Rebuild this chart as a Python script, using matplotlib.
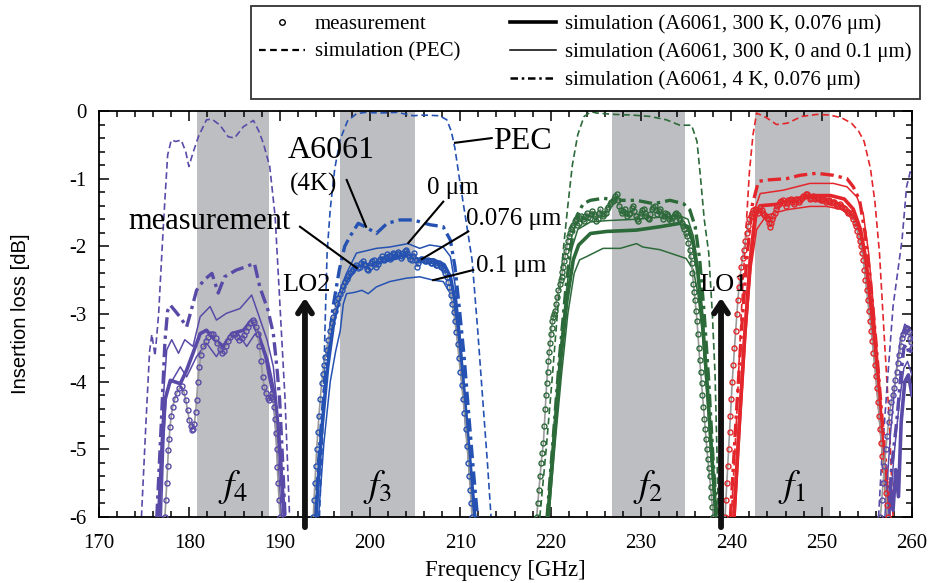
import numpy as np
import matplotlib
matplotlib.use('Agg')
import matplotlib.pyplot as plt
from matplotlib.lines import Line2D

plt.rcParams['font.family'] = ['Liberation Serif', 'DejaVu Serif']
plt.rcParams['mathtext.fontset'] = 'stix'
plt.rcParams['axes.unicode_minus'] = False

# ---- band colours / shaded IF bands ----
c4, c3, c2, c1 = '#5a4aa8', '#2552b2', '#2d6a3a', '#e2262b'
bands = [(180.9, 188.85, '$f_4$'), (196.7, 205.0, '$f_3$'),
         (226.8, 234.9, '$f_2$'), (242.6, 250.9, '$f_1$')]
lo_freqs = [192.8, 238.86]
lo_names = ['LO2', 'LO1']

# ---- f4 (purple) ----
pec4 = [(174.7,-6.0),(175.2,-4.6),(175.6,-3.55),(175.85,-3.3),(176.2,-3.62),(176.6,-3.0),(177.0,-2.0),
        (177.3,-1.3),(177.6,-0.65),(178.0,-0.43),(178.5,-0.45),(179.1,-0.43),(179.6,-0.6),(179.95,-0.82),
        (180.4,-0.62),(181.0,-0.38),(181.9,-0.13),(182.5,-0.12),(183.4,-0.21),(184.3,-0.38),(185.0,-0.4),
        (186.0,-0.23),(187.1,-0.14),(187.7,-0.3),(188.2,-0.48),(188.9,-0.82),(189.5,-1.56),(190.0,-2.79),
        (190.6,-4.27),(191.1,-6.0)]
cold4 = [(176.4,-6.0),(176.9,-4.6),(177.3,-3.4),(177.6,-2.95),(177.9,-2.87),(178.4,-2.95),(179.0,-3.05),
         (179.7,-3.19),(180.2,-2.95),(180.8,-2.65),(181.6,-2.5),(182.5,-2.4),(183.2,-2.69),(183.9,-2.45),
         (185.2,-2.35),(186.3,-2.3),(187.2,-2.25),(187.8,-2.6),(188.7,-2.94),(189.3,-3.29),(189.7,-3.8),
         (190.0,-4.27),(190.3,-5.1),(190.6,-6.0)]
r076_4 = [(176.6,-6.0),(177.0,-4.9),(177.3,-4.27),(177.9,-3.98),(179.0,-4.03),(179.7,-3.83),(180.4,-3.58),
          (181.2,-3.29),(181.9,-3.24),(182.8,-3.38),(183.8,-3.48),(184.7,-3.29),(186.0,-3.24),(186.9,-3.09),
          (187.6,-3.29),(188.6,-3.68),(189.3,-4.12),(190.0,-5.01),(190.5,-6.0)]
r0_4 = [(176.75,-6.0),(177.1,-4.27),(177.5,-3.53),(178.05,-3.38),(178.8,-3.58),(179.5,-3.38),(180.4,-3.48),
        (181.2,-3.04),(182.3,-2.89),(183.0,-3.09),(184.1,-2.99),(185.6,-2.92),(186.9,-2.72),(187.6,-2.99),
        (188.6,-3.38),(189.3,-3.78),(190.0,-4.76),(190.6,-6.0)]
r01_4 = [(176.9,-6.0),(177.2,-4.8),(177.5,-4.12),(179.0,-3.78),(179.7,-3.93),(180.8,-3.63),(181.9,-3.43),
         (183.0,-3.63),(184.1,-3.38),(185.4,-3.29),(186.35,-3.48),(187.3,-3.29),(188.2,-3.48),(188.7,-3.88),
         (189.3,-4.27),(189.85,-5.26),(190.2,-6.0)]
meas4 = [(177.3,-6.0),(177.4,-5.75),(177.5,-5.5),(177.6,-5.25),(177.67,-5.01),(177.76,-4.85),(177.86,-4.67),
         (178.0,-4.5),(178.16,-4.37),(178.4,-4.25),(178.6,-4.17),(178.9,-4.1),(179.15,-4.07),(179.4,-4.15),
         (179.6,-4.27),(179.8,-4.42),(180.0,-4.57),(180.15,-4.66),(180.26,-4.71),(180.4,-4.7),(180.55,-4.62),
         (180.7,-4.45),(180.8,-4.27),(180.95,-4.0),(181.1,-3.78),(181.3,-3.6),(181.55,-3.48),(181.8,-3.4),
         (182.1,-3.34),(182.4,-3.3),(182.65,-3.29),(182.9,-3.36),(183.1,-3.43),(183.35,-3.52),(183.58,-3.58),
         (183.8,-3.55),(184.06,-3.48),(184.3,-3.4),(184.5,-3.34),(184.8,-3.3),(185.06,-3.29),(185.3,-3.34),
         (185.53,-3.38),(185.8,-3.35),(186.05,-3.31),(186.3,-3.25),(186.53,-3.19),(186.75,-3.14),(187.0,-3.09),
         (187.2,-3.12),(187.38,-3.19),(187.55,-3.3),(187.75,-3.48),(187.95,-3.7),(188.12,-3.93),(188.3,-4.08),
         (188.49,-4.17),(188.7,-4.24),(188.86,-4.27),(189.0,-4.22),(189.12,-4.17),(189.25,-4.25),(189.37,-4.37),
         (189.5,-4.55),(189.6,-4.76),(189.67,-5.0),(189.74,-5.26),(189.83,-5.5),(189.93,-5.75),(190.04,-6.0)]

# ---- f3 (blue) ----
pec3 = [(194.4,-6.0),(194.75,-4.8),(195.0,-3.3),(195.25,-2.1),(195.6,-1.45),(196.1,-0.85),(196.7,-0.42),
        (197.5,-0.15),(198.5,-0.04),(199.5,-0.02),(201.0,-0.03),(203.0,-0.02),(204.8,-0.07),(205.9,-0.06),
        (207.7,-0.07),(208.5,-0.13),(209.0,-0.3),(209.4,-0.55),(209.9,-1.0),(210.6,-1.6),(211.3,-2.2),
        (211.9,-3.2),(212.5,-4.3),(213.0,-5.2),(213.4,-6.0)]
cold3 = [(193.9,-6.0),(194.5,-4.8),(195.2,-3.7),(195.9,-2.9),(196.6,-2.35),(197.2,-2.0),(197.8,-1.85),
         (198.7,-1.66),(199.6,-1.72),(200.7,-1.81),(201.9,-1.66),(203.3,-1.61),(204.8,-1.61),(206.6,-1.68),
         (208.1,-1.71),(208.9,-1.91),(209.4,-2.3),(209.8,-2.8),(210.4,-3.6),(211.0,-4.6),(211.5,-5.4),(211.9,-6.0)]
r076_3 = [(194.0,-6.0),(194.6,-4.8),(195.3,-3.8),(196.0,-3.1),(196.7,-2.7),(197.4,-2.5),(198.5,-2.3),
          (200.0,-2.27),(201.5,-2.22),(203.0,-2.17),(204.2,-2.13),(205.5,-2.2),(207.0,-2.2),(208.2,-2.27),
          (208.9,-2.45),(209.4,-2.8),(209.9,-3.4),(210.5,-4.3),(211.2,-5.4),(211.6,-6.0)]
r0_3 = [(194.1,-6.0),(194.7,-4.7),(195.4,-3.6),(196.1,-2.95),(196.8,-2.6),(197.4,-2.4),(198.5,-2.1),
        (200.7,-2.03),(202.2,-2.01),(204.2,-1.96),(205.5,-2.03),(206.6,-1.98),(208.1,-2.01),(208.9,-2.15),
        (209.4,-2.55),(209.9,-3.2),(210.5,-4.2),(211.2,-5.4),(211.7,-6.0)]
r01_3 = [(194.3,-6.0),(194.9,-4.9),(195.6,-4.0),(196.2,-3.55),(196.7,-3.25),(197.05,-2.85),(197.4,-2.7),
         (198.3,-2.68),(199.1,-2.65),(199.8,-2.7),(200.7,-2.6),(202.2,-2.52),(204.05,-2.47),(205.5,-2.45),
         (207.0,-2.5),(208.1,-2.52),(208.9,-2.7),(209.4,-3.04),(209.9,-3.6),(210.5,-4.5),(211.1,-5.5),(211.5,-6.0)]
meas3 = [(193.73,-6.0),(193.8,-5.75),(193.9,-5.5),(194.0,-5.25),(194.1,-5.0),(194.22,-4.75),(194.35,-4.5),
         (194.5,-4.25),(194.65,-4.02),(194.78,-3.88),(194.9,-3.75),(195.05,-3.64),(195.2,-3.53),(195.38,-3.38),
         (195.55,-3.25),(195.75,-3.14),(195.94,-3.04),(196.1,-2.95),(196.3,-2.85),(196.5,-2.77),(196.68,-2.7),
         (196.85,-2.64),(197.05,-2.58),(197.25,-2.52),(197.42,-2.48),(197.6,-2.44),(197.8,-2.4),(198.0,-2.36),
         (198.15,-2.33),(198.3,-2.3),(198.5,-2.27),(198.7,-2.32),(198.85,-2.3),(199.0,-2.25),(199.2,-2.22),
         (199.35,-2.26),(199.5,-2.28),(199.65,-2.33),(199.8,-2.35),(199.95,-2.3),(200.1,-2.25),(200.25,-2.21),
         (200.4,-2.2),(200.55,-2.26),(200.7,-2.3),(200.85,-2.26),(201.0,-2.22),(201.15,-2.18),(201.3,-2.15),
         (201.45,-2.18),(201.6,-2.2),(201.75,-2.16),(201.9,-2.12),(202.05,-2.15),(202.2,-2.18),(202.35,-2.14),
         (202.5,-2.1),(202.65,-2.12),(202.8,-2.15),(202.95,-2.11),(203.1,-2.08),(203.25,-2.12),(203.4,-2.17),
         (203.55,-2.14),(203.7,-2.1),(203.85,-2.07),(204.0,-2.05),(204.15,-2.1),(204.3,-2.15),(204.45,-2.18),
         (204.6,-2.2),(204.75,-2.15),(204.9,-2.1),(205.05,-2.2),(205.2,-2.3),(205.35,-2.25),(205.5,-2.2),
         (205.65,-2.19),(205.8,-2.18),(205.95,-2.2),(206.1,-2.22),(206.25,-2.21),(206.4,-2.2),(206.55,-2.22),
         (206.7,-2.25),(206.85,-2.24),(207.0,-2.22),(207.15,-2.25),(207.3,-2.28),(207.45,-2.27),(207.6,-2.25),
         (207.75,-2.27),(207.9,-2.3),(208.05,-2.32),(208.2,-2.35),(208.35,-2.4),(208.5,-2.45),(208.65,-2.52),
         (208.8,-2.6),(208.95,-2.72),(209.1,-2.85),(209.25,-2.97),(209.4,-3.1),(209.55,-3.27),(209.7,-3.45),
         (209.85,-3.65),(210.0,-3.85),(210.15,-4.05),(210.3,-4.25),(210.45,-4.47),(210.6,-4.7),(210.75,-4.95),
         (210.9,-5.2),(211.0,-5.4),(211.1,-5.6),(211.2,-5.8),(211.3,-6.0)]

# ---- f2 (green) ----
pec2 = [(218.8,-6.0),(219.5,-5.0),(220.2,-3.9),(220.8,-2.9),(221.4,-2.05),(221.9,-1.4),(222.4,-0.8),
        (223.0,-0.35),(223.7,-0.08),(224.5,-0.01),(225.1,-0.03),(227.0,-0.05),(229.0,-0.06),(231.0,-0.08),
        (232.8,-0.13),(234.3,-0.21),(235.6,-0.21),(236.2,-0.45),(236.6,-1.0),(237.0,-1.6),(237.5,-2.1),
        (237.9,-3.0),(238.2,-3.9),(238.4,-5.0),(238.55,-6.0)]
cold2 = [(219.6,-6.0),(220.3,-4.8),(221.0,-3.6),(221.7,-2.6),(222.3,-1.95),(222.9,-1.55),(223.6,-1.37),
         (224.4,-1.32),(225.8,-1.29),(227.7,-1.32),(229.5,-1.32),(231.4,-1.37),(233.2,-1.32),(234.7,-1.37),
         (235.4,-1.46),(236.0,-1.71),(236.5,-2.2),(237.0,-3.0),(237.5,-4.0),(238.0,-5.2),(238.4,-6.0)]
r076_2 = [(219.7,-6.0),(220.4,-4.8),(221.1,-3.7),(221.8,-2.8),(222.5,-2.2),(223.1,-1.98),(224.4,-1.81),
          (226.2,-1.78),(229.5,-1.76),(232.1,-1.71),(234.3,-1.66),(235.2,-1.71),(235.8,-1.96),(236.3,-2.4),
          (236.8,-3.1),(237.3,-4.0),(237.8,-5.0),(238.3,-6.0)]
r0_2 = [(219.6,-6.0),(220.3,-4.8),(221.0,-3.6),(221.7,-2.7),(222.3,-2.05),(223.0,-1.75),(224.4,-1.64),
        (226.2,-1.62),(229.5,-1.6),(232.1,-1.57),(234.3,-1.55),(235.2,-1.6),(235.8,-1.85),(236.3,-2.3),
        (236.8,-3.0),(237.3,-3.9),(237.8,-5.0),(238.3,-6.0)]
r01_2 = [(219.8,-6.0),(220.5,-4.9),(221.2,-3.9),(221.9,-3.0),(222.6,-2.4),(223.2,-2.2),(224.0,-2.15),
         (225.8,-2.03),(227.7,-2.03),(229.5,-1.96),(230.2,-2.01),(232.1,-2.05),(233.9,-2.13),(235.0,-2.18),
         (235.8,-2.35),(236.3,-2.7),(236.8,-3.3),(237.3,-4.2),(237.8,-5.2),(238.2,-6.0)]
meas2 = [(218.45,-6.0),(218.58,-5.8),(218.7,-5.6),(218.82,-5.4),(218.95,-5.2),(219.08,-5.05),(219.2,-4.9),
         (219.3,-4.65),(219.4,-4.4),(219.48,-4.2),(219.56,-4.02),(219.65,-3.85),(219.75,-3.7),(219.84,-3.56),
         (219.93,-3.43),(220.02,-3.3),(220.1,-3.2),(220.2,-3.1),(220.3,-3.04),(220.4,-3.0),(220.5,-2.95),
         (220.6,-2.85),(220.7,-2.75),(220.85,-2.65),(221.0,-2.55),(221.1,-2.5),(221.2,-2.45),(221.3,-2.38),
         (221.4,-2.3),(221.5,-2.22),(221.6,-2.15),(221.7,-2.07),(221.8,-2.0),(221.9,-1.92),(222.0,-1.85),
         (222.12,-1.8),(222.25,-1.75),(222.38,-1.72),(222.5,-1.68),(222.65,-1.62),(222.8,-1.6),(222.95,-1.68),
         (223.1,-1.65),(223.25,-1.58),(223.4,-1.55),(223.55,-1.6),(223.7,-1.62),(223.85,-1.55),(224.0,-1.5),
         (224.15,-1.56),(224.3,-1.58),(224.45,-1.52),(224.6,-1.48),(224.75,-1.52),(224.9,-1.55),(225.05,-1.62),
         (225.2,-1.6),(225.35,-1.5),(225.5,-1.45),(225.65,-1.52),(225.8,-1.55),(225.95,-1.52),(226.1,-1.5),
         (226.25,-1.45),(226.4,-1.42),(226.55,-1.38),(226.7,-1.35),(226.85,-1.33),(227.0,-1.3),(227.15,-1.26),
         (227.3,-1.22),(227.45,-1.32),(227.6,-1.4),(227.75,-1.46),(227.9,-1.5),(228.05,-1.48),(228.2,-1.45),
         (228.35,-1.5),(228.5,-1.55),(228.65,-1.52),(228.8,-1.5),(228.95,-1.44),(229.1,-1.4),(229.25,-1.48),
         (229.4,-1.55),(229.55,-1.6),(229.7,-1.62),(229.85,-1.55),(230.0,-1.5),(230.15,-1.47),(230.3,-1.45),
         (230.45,-1.5),(230.6,-1.55),(230.75,-1.58),(230.9,-1.6),(231.05,-1.52),(231.2,-1.45),(231.35,-1.42),
         (231.5,-1.4),(231.65,-1.46),(231.8,-1.52),(231.95,-1.48),(232.1,-1.45),(232.25,-1.53),(232.4,-1.6),
         (232.55,-1.55),(232.7,-1.5),(232.85,-1.52),(233.0,-1.55),(233.15,-1.59),(233.3,-1.62),(233.45,-1.58),
         (233.6,-1.55),(233.75,-1.52),(233.9,-1.5),(234.05,-1.54),(234.2,-1.58),(234.35,-1.61),(234.5,-1.65),
         (234.65,-1.7),(234.8,-1.75),(234.95,-1.8),(235.1,-1.85),(235.25,-1.95),(235.4,-2.05),(235.5,-2.15),
         (235.6,-2.25),(235.7,-2.4),(235.8,-2.55),(235.9,-2.68),(236.0,-2.8),(236.1,-2.95),(236.2,-3.1),
         (236.3,-3.3),(236.4,-3.5),(236.5,-3.68),(236.6,-3.85),(236.7,-4.02),(236.8,-4.2),(236.9,-4.38),
         (237.0,-4.55),(237.1,-4.7),(237.2,-4.85),(237.3,-5.0),(237.4,-5.15),(237.5,-5.28),(237.6,-5.4),
         (237.7,-5.55),(237.8,-5.7),(237.9,-5.85),(238.0,-6.0)]

# ---- f1 (red) ----
pec1 = [(240.0,-6.0),(240.6,-4.5),(241.1,-3.0),(241.6,-1.8),(242.0,-0.9),(242.4,-0.35),(242.8,-0.03),
        (243.9,-0.1),(245.0,-0.2),(246.2,-0.18),(247.8,-0.08),(249.5,-0.05),(250.9,-0.06),(252.2,-0.1),
        (253.3,-0.18),(254.1,-0.3),(254.7,-0.45),(255.4,-0.85),(255.9,-1.35),(256.4,-2.1),(257.0,-3.5),
        (257.5,-4.6),(257.9,-6.0)]
cold1 = [(239.9,-6.0),(240.5,-4.6),(241.1,-3.3),(241.7,-2.2),(242.3,-1.4),(243.0,-1.04),(243.9,-1.02),
         (246.1,-1.0),(247.6,-0.95),(249.45,-0.92),(251.3,-0.95),(252.8,-1.0),(253.5,-1.12),(254.2,-1.32),
         (254.8,-1.8),(255.4,-2.5),(256.0,-3.4),(256.6,-4.4),(257.2,-5.4),(257.5,-6.0)]
r076_1 = [(240.3,-6.0),(240.9,-4.6),(241.5,-3.3),(242.1,-2.2),(242.7,-1.55),(243.2,-1.4),(245.0,-1.38),
          (247.0,-1.3),(249.0,-1.25),(251.0,-1.25),(252.5,-1.3),(253.5,-1.45),(254.3,-1.75),(254.9,-2.2),
          (255.5,-2.9),(256.1,-3.8),(256.6,-4.7),(257.1,-5.5),(257.4,-6.0)]
r0_1 = [(240.2,-6.0),(240.8,-4.6),(241.4,-3.3),(242.0,-2.2),(242.6,-1.45),(243.2,-1.22),(245.75,-1.17),
        (248.7,-1.07),(251.3,-1.07),(252.8,-1.12),(253.9,-1.27),(254.6,-1.51),(255.2,-2.1),(255.8,-3.0),
        (256.4,-4.0),(256.9,-5.0),(257.3,-6.0)]
r01_1 = [(240.4,-6.0),(241.0,-4.6),(241.6,-3.3),(242.2,-2.3),(242.8,-1.75),(243.9,-1.54),(246.1,-1.46),
         (248.7,-1.41),(250.55,-1.41),(252.4,-1.46),(253.5,-1.56),(254.2,-1.81),(254.8,-2.3),(255.4,-3.0),
         (256.0,-3.9),(256.6,-4.9),(257.1,-5.7),(257.3,-6.0)]
meas1 = [(239.3,-6.0),(239.4,-5.75),(239.5,-5.5),(239.6,-5.25),(239.7,-5.0),(239.8,-4.75),(239.9,-4.5),
         (240.0,-4.25),(240.1,-4.0),(240.22,-3.75),(240.35,-3.5),(240.48,-3.25),(240.6,-3.0),(240.72,-2.8),
         (240.85,-2.6),(240.98,-2.45),(241.1,-2.3),(241.25,-2.17),(241.4,-2.05),(241.55,-1.92),(241.7,-1.8),
         (241.85,-1.7),(242.0,-1.6),(242.15,-1.55),(242.3,-1.5),(242.45,-1.47),(242.6,-1.45),(242.75,-1.48),
         (242.9,-1.5),(243.05,-1.46),(243.2,-1.42),(243.35,-1.46),(243.5,-1.5),(243.65,-1.53),(243.8,-1.55),
         (243.95,-1.58),(244.1,-1.6),(244.2,-1.66),(244.3,-1.72),(244.4,-1.66),(244.5,-1.6),(244.65,-1.55),
         (244.8,-1.5),(244.95,-1.45),(245.1,-1.4),(245.25,-1.37),(245.4,-1.35),(245.55,-1.33),(245.7,-1.32),
         (245.85,-1.36),(246.0,-1.4),(246.15,-1.36),(246.3,-1.32),(246.45,-1.31),(246.6,-1.3),(246.75,-1.34),
         (246.9,-1.38),(247.05,-1.34),(247.2,-1.3),(247.35,-1.32),(247.5,-1.35),(247.65,-1.31),(247.8,-1.28),
         (247.95,-1.26),(248.1,-1.25),(248.25,-1.23),(248.4,-1.22),(248.55,-1.26),(248.7,-1.3),(248.85,-1.28),
         (249.0,-1.26),(249.15,-1.28),(249.3,-1.3),(249.45,-1.28),(249.6,-1.27),(249.75,-1.3),(249.9,-1.32),
         (250.05,-1.31),(250.2,-1.3),(250.35,-1.32),(250.5,-1.34),(250.65,-1.33),(250.8,-1.32),(250.95,-1.34),
         (251.1,-1.36),(251.25,-1.35),(251.4,-1.35),(251.55,-1.38),(251.7,-1.4),(251.85,-1.39),(252.0,-1.38),
         (252.15,-1.4),(252.3,-1.42),(252.45,-1.44),(252.6,-1.45),(252.75,-1.48),(252.9,-1.5),(253.05,-1.5),
         (253.2,-1.5),(253.35,-1.55),(253.5,-1.6),(253.65,-1.65),(253.8,-1.7),(253.95,-1.78),(254.1,-1.85),
         (254.22,-1.92),(254.35,-2.0),(254.48,-2.1),(254.6,-2.2),(254.72,-2.35),(254.85,-2.5),(254.98,-2.65),
         (255.1,-2.8),(255.22,-2.95),(255.35,-3.1),(255.48,-3.25),(255.6,-3.4),(255.72,-3.58),(255.85,-3.75),
         (255.98,-3.92),(256.1,-4.1),(256.22,-4.3),(256.35,-4.5),(256.48,-4.7),(256.6,-4.9),(256.72,-5.1),
         (256.85,-5.3),(256.98,-5.48),(257.1,-5.65),(257.2,-5.82),(257.3,-6.0)]

# ---- purple again at the right edge ----
pecR = [(256.3,-6.0),(256.6,-5.26),(257.0,-4.52),(257.4,-3.78),(257.9,-2.89),(258.9,-1.9),(259.4,-1.12),
        (259.8,-0.9),(260.0,-1.0)]
coldR = [(257.3,-6.0),(257.8,-5.2),(258.3,-4.6),(258.7,-4.0),(259.1,-3.5),(259.4,-3.45),(259.7,-3.6),(260.0,-3.5)]
r076_R = [(257.4,-6.0),(257.6,-5.6),(257.9,-5.9),(258.2,-5.3),(258.5,-5.7),(258.8,-4.6),(259.2,-4.0),
          (259.6,-3.9),(260.0,-4.2)]
r0_R = [(257.0,-6.0),(257.6,-4.8),(258.2,-3.9),(258.7,-3.4),(259.2,-3.15),(259.6,-3.2),(260.0,-3.4)]
r01_R = [(257.5,-6.0),(258.0,-5.1),(258.6,-4.3),(259.1,-3.8),(259.5,-3.7),(260.0,-3.9)]
measR = [(256.5,-6.0),(256.65,-5.75),(256.8,-5.5),(256.95,-5.25),(257.1,-5.0),(257.25,-4.8),(257.4,-4.6),
         (257.55,-4.45),(257.7,-4.3),(257.85,-4.2),(258.0,-4.1),(258.15,-3.98),(258.3,-3.85),(258.45,-3.72),
         (258.6,-3.6),(258.75,-3.47),(258.9,-3.35),(259.05,-3.3),(259.2,-3.25),(259.35,-3.22),(259.5,-3.2),
         (259.65,-3.27),(259.8,-3.35),(259.9,-3.42),(260.0,-3.5)]

groups = [
    (c4, pec4, cold4, r076_4, r0_4, r01_4, meas4),
    (c3, pec3, cold3, r076_3, r0_3, r01_3, meas3),
    (c2, pec2, cold2, r076_2, r0_2, r01_2, meas2),
    (c1, pec1, cold1, r076_1, r0_1, r01_1, meas1),
    (c4, pecR, coldR, r076_R, r0_R, r01_R, measR),
]


def xy(pts):
    a = np.array(pts)
    return a[:, 0], a[:, 1]


fig = plt.figure(figsize=(9.33, 5.83), dpi=100)
ax = fig.add_axes([99/933, 1-517/583, (912-99)/933, (517-111)/583])

for lo, hi, lab in bands:
    ax.axvspan(lo, hi, color='#bdbec2', lw=0, zorder=0)
    ax.text((lo+hi)/2, -5.55, lab, fontsize=27, ha='center', va='center', zorder=6)

for col, pec, cold, r076, r0, r01, meas in groups:
    ax.plot(*xy(pec), color=col, lw=1.2, ls=(0, (4, 2.2)), zorder=2)
    ax.plot(*xy(cold), color=col, lw=2.4, ls=(0, (4, 1.5, 1, 1.5)), zorder=3)
    ax.plot(*xy(r0), color=col, lw=1.1, zorder=3)
    ax.plot(*xy(r01), color=col, lw=1.1, zorder=3)
    ax.plot(*xy(r076), color=col, lw=2.6, zorder=3)
    mx, my = xy(meas)
    ax.plot(mx, my, color='#9a9a9a', lw=1.2, zorder=4)
    ax.plot(mx, my, ls='none', marker='o', ms=3.6, mfc='none', mec=col, mew=1.0, zorder=4)

# LO arrows
for f, name in zip(lo_freqs, lo_names):
    ax.annotate('', xy=(f, -2.76), xytext=(f, -6.15), annotation_clip=False,
                arrowprops=dict(arrowstyle='->,head_length=0.75,head_width=0.5', lw=4.2,
                                color='#111111', shrinkA=0, shrinkB=0), zorder=7)
ax.text(190.3, -2.57, 'LO2', fontsize=19, va='center', zorder=8)
ax.text(236.4, -2.57, 'LO1', fontsize=19, va='center', zorder=8)

# labels with leader lines
ax.text(190.9, -0.58, 'A6061', fontsize=23, va='center', zorder=8)
ax.text(191.1, -1.09, '(4K)', fontsize=18, va='center', zorder=8)
ax.plot([197.42, 199.56], [-1.02, -1.71], color='k', lw=1.5, zorder=8)
ax.text(173.2, -1.64, 'measurement', fontsize=22, va='center', zorder=8)
ax.plot([192.25, 198.53], [-1.71, -2.32], color='k', lw=1.5, zorder=8)
ax.text(206.3, -1.14, '0 μm', fontsize=18, va='center', zorder=8)
ax.plot([208.11, 204.24], [-1.34, -1.95], color='k', lw=1.5, zorder=8)
ax.text(210.6, -1.6, '0.076 μm', fontsize=18, va='center', zorder=8)
ax.plot([210.88, 205.72], [-1.78, -2.19], color='k', lw=1.5, zorder=8)
ax.text(211.7, -2.29, '0.1 μm', fontsize=18, va='center', zorder=8)
ax.plot([211.43, 207.0], [-2.35, -2.5], color='k', lw=1.5, zorder=8)
ax.text(213.6, -0.45, 'PEC', fontsize=23, va='center', zorder=8)
ax.plot([213.47, 209.41], [-0.40, -0.47], color='k', lw=1.5, zorder=8)

ax.set_xlim(170, 260)
ax.set_ylim(-6, 0)
ax.set_xticks(np.arange(170, 261, 10))
ax.set_xticks(np.arange(170, 261, 2), minor=True)
ax.set_yticks(np.arange(-6, 0.1, 1))
ax.set_yticks(np.arange(-6, 0.01, 0.2), minor=True)
ax.tick_params(which='both', direction='in', top=True, right=True, width=1.1)
ax.tick_params(which='major', length=7, labelsize=15)
ax.tick_params(axis='x', which='major', pad=12)
ax.tick_params(axis='y', which='major', pad=9)
ax.tick_params(which='minor', length=4)
for s in ax.spines.values():
    s.set_linewidth(1.3)
ax.set_xlabel('Frequency [GHz]', fontsize=16.5, labelpad=5)
ax.set_ylabel('Insertion loss [dB]', fontsize=14.5, family=['Liberation Sans'], labelpad=28)

handles = [
    Line2D([], [], ls='none', marker='o', ms=4, mfc='none', mec='k', mew=1.0),
    Line2D([], [], color='k', lw=1.6, ls=(0, (3, 2))),
    Line2D([], [], ls='none'),
    Line2D([], [], color='k', lw=2.6),
    Line2D([], [], color='k', lw=1.1),
    Line2D([], [], color='k', lw=1.8, ls=(0, (3, 1.5, 1, 1.5))),
]
labels = ['measurement', 'simulation (PEC)', '',
          'simulation (A6061, 300 K, 0.076 μm)', 'simulation (A6061, 300 K, 0 and 0.1 μm)',
          'simulation (A6061, 4 K, 0.076 μm)']
leg = fig.legend(handles, labels, ncol=2, loc='upper right', bbox_to_anchor=(920/933, 1-6/583),
                 frameon=True, fancybox=False, edgecolor='k', fontsize=15, handlelength=2.2,
                 handletextpad=0.45, borderaxespad=0, columnspacing=2.4, labelspacing=0.4,
                 borderpad=0.4)
leg.get_frame().set_linewidth(1.3)

fig.savefig('out.png', dpi=100)
